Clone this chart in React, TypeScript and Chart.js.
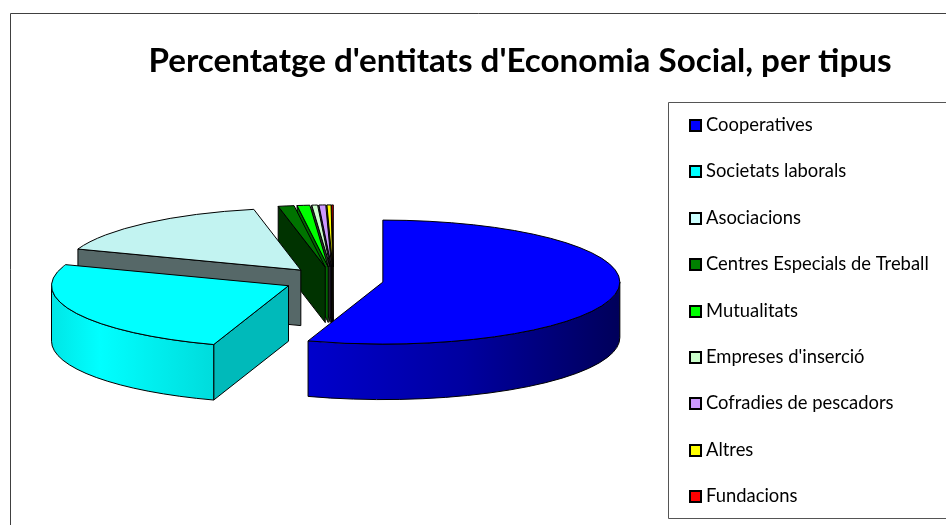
import React, { useEffect, useRef } from "react";
import { Chart, registerables } from "chart.js";

Chart.register(...registerables);

const categories = [
  "Cooperatives",
  "Societats laborals",
  "Asociacions",
  "Centres Especials de Treball",
  "Mutualitats",
  "Empreses d'inserció",
  "Cofradies de pescadors",
  "Altres",
  "Fundacions",
];
const shares = [55.1, 25.4, 16.3, 1.08, 0.86, 0.39, 0.46, 0.28, 0.11];
const titleText = "Percentatge d'entitats d'Economia Social, per tipus";

const legendColors = ["#0000FF", "#00FFFF", "#CCFFFF", "#008000", "#00FF00", "#CCFFCC", "#CC99FF", "#FFFF00", "#FF0000"];
const topColors = ["#0000FF", "#00FFFF", "#C2F3F1", "#007300", "#00FF00", "#CCFFCC", "#CC99FF", "#FFFF00", "#FF0000"];
const faceColors = ["#000099", "#00BABA", "#566868", "#003300", "#006600", "#333333", "#332255", "#333300", "#330000"];
const wallStops: string[][] = [
  ["#0000CC", "#0000A0", "#00005A"],
  ["#00E6E6", "#00FFFF", "#00DCDC"],
  ["#566868", "#566868", "#566868"],
  ["#003300", "#003300", "#003300"],
  ["#006600", "#006600", "#006600"],
  ["#333333", "#333333", "#333333"],
  ["#332255", "#332255", "#332255"],
  ["#333300", "#333300", "#333300"],
  ["#330000", "#330000", "#330000"],
];

const PIE = { cx: 333.5, cy: 280, rx: 237, ry: 62, depth: 55.5, explode: 50 };
const LEGEND = { boxLeft: 668, boxTop: 102, boxBottom: 518, swatchX: 690, firstY: 125, swatch: 11, fontSize: 18.4, pad: 28 };

const pie3d = {
  id: "pie3d",
  beforeDatasetsDraw(chart: any) {
    const ctx = chart.ctx as CanvasRenderingContext2D;
    const arcs = chart.getDatasetMeta(0).data as any[];
    const { cx, cy, rx, ry, depth, explode } = PIE;
    for (let i = arcs.length - 1; i >= 0; i--) {
      const arc = arcs[i];
      const a1 = arc.startAngle;
      const a2 = arc.endAngle;
      const mid = (a1 + a2) / 2;
      const x = cx + explode * Math.cos(mid);
      const y = cy + (explode * ry * Math.sin(mid)) / rx;
      ctx.save();
      ctx.lineWidth = 1;
      ctx.strokeStyle = "#000000";
      ctx.lineJoin = "round";
      const sx = x + rx * Math.cos(a1);
      const sy = y + ry * Math.sin(a1);
      // start-side cut face, visible when it looks towards the viewer
      if (Math.sin(a1 + Math.PI / 2) < -1e-6) {
        ctx.beginPath();
        ctx.moveTo(x, y);
        ctx.lineTo(sx, sy);
        ctx.lineTo(sx, sy + depth);
        ctx.lineTo(x, y + depth);
        ctx.closePath();
        ctx.fillStyle = faceColors[i];
        ctx.fill();
        ctx.stroke();
      }
      // outer rim: only the near half of the ellipse shows
      const w1 = Math.max(a1, 0);
      const w2 = Math.min(a2, Math.PI);
      if (w2 > w1) {
        const xa = x + rx * Math.cos(w1);
        const xb = x + rx * Math.cos(w2);
        const grad = ctx.createLinearGradient(Math.min(xa, xb), 0, Math.max(xa, xb), 0);
        const stops = wallStops[i];
        grad.addColorStop(0, stops[0]);
        grad.addColorStop(i === 0 ? 0.5 : 0.3, stops[1]);
        grad.addColorStop(1, stops[2]);
        ctx.beginPath();
        ctx.ellipse(x, y, rx, ry, 0, w1, w2);
        ctx.ellipse(x, y + depth, rx, ry, 0, w2, w1, true);
        ctx.closePath();
        ctx.fillStyle = grad;
        ctx.fill();
        ctx.stroke();
      }
      // top face: the library's own arc element under an elliptical transform
      ctx.save();
      ctx.translate(x, y);
      ctx.scale(rx / arc.outerRadius, ry / arc.outerRadius);
      ctx.translate(-arc.x, -arc.y);
      arc.draw(ctx);
      ctx.restore();
      ctx.beginPath();
      ctx.moveTo(x, y);
      ctx.lineTo(sx, sy);
      ctx.ellipse(x, y, rx, ry, 0, a1, a2);
      ctx.closePath();
      ctx.stroke();
      ctx.restore();
    }
    return false;
  },
};

const frame = {
  id: "frame",
  beforeDraw(chart: any) {
    const legend = chart.legend;
    legend.left = LEGEND.swatchX - LEGEND.pad;
    legend.right = chart.width;
    legend.top = LEGEND.firstY - LEGEND.fontSize / 2 - LEGEND.pad;
    legend.bottom = chart.height + 200;

    const ctx = chart.ctx as CanvasRenderingContext2D;
    ctx.save();
    ctx.fillStyle = "#FFFFFF";
    ctx.fillRect(0, 0, chart.width, chart.height);
    ctx.strokeStyle = "#404040";
    ctx.lineWidth = 1;
    ctx.beginPath();
    ctx.moveTo(10.5, chart.height);
    ctx.lineTo(10.5, 13.5);
    ctx.lineTo(chart.width, 13.5);
    ctx.stroke();
    ctx.strokeStyle = "#555555";
    ctx.beginPath();
    ctx.moveTo(chart.width, LEGEND.boxTop + 0.5);
    ctx.lineTo(LEGEND.boxLeft + 0.5, LEGEND.boxTop + 0.5);
    ctx.lineTo(LEGEND.boxLeft + 0.5, LEGEND.boxBottom + 0.5);
    ctx.lineTo(chart.width, LEGEND.boxBottom + 0.5);
    ctx.stroke();
    ctx.restore();
  },
  afterDraw(chart: any) {
    const ctx = chart.ctx as CanvasRenderingContext2D;
    ctx.save();
    categories.forEach((_, i) => {
      const cy = Math.round(LEGEND.firstY + (LEGEND.fontSize + LEGEND.pad) * i);
      ctx.fillStyle = legendColors[i];
      ctx.strokeStyle = "#000000";
      ctx.lineWidth = 2;
      ctx.fillRect(LEGEND.swatchX, cy - 5, LEGEND.swatch, LEGEND.swatch);
      ctx.strokeRect(LEGEND.swatchX, cy - 5, LEGEND.swatch, LEGEND.swatch);
    });
    ctx.restore();
  },
};

export default function App() {
  const ref = useRef<HTMLCanvasElement>(null);
  useEffect(() => {
    const chart = new Chart(ref.current!, {
      type: "pie",
      data: {
        labels: categories,
        datasets: [
          {
            data: shares,
            backgroundColor: topColors,
            borderWidth: 0,
          },
        ],
      },
      options: {
        responsive: false,
        animation: false,
        devicePixelRatio: 1,
        layout: { padding: { left: 94, right: 0, top: 0, bottom: 0 } },
        plugins: {
          tooltip: { enabled: false },
          title: {
            display: true,
            text: titleText,
            color: "#000000",
            align: "center",
            font: { family: "Lato", size: 33.2, weight: "bold" },
            padding: { top: 41, bottom: 10 },
          },
          legend: {
            display: true,
            position: "right",
            align: "start",
            fullSize: true,
            labels: {
              color: "#000000",
              boxWidth: 6.8,
              boxHeight: 11,
              padding: LEGEND.pad,
              font: { family: "Lato", size: LEGEND.fontSize },
              generateLabels: () =>
                categories.map((text, index) => ({
                  text,
                  index,
                  fillStyle: "rgba(0,0,0,0)",
                  strokeStyle: "rgba(0,0,0,0)",
                  lineWidth: 0,
                  fontColor: "#000000",
                  hidden: false,
                })),
            },
          },
        },
      },
      plugins: [pie3d, frame],
    } as any);
    return () => chart.destroy();
  }, []);
  return (
    <canvas
      ref={ref}
      width={946}
      height={525}
      style={{ position: "fixed", left: 0, top: 0, width: 946, height: 525, display: "block" }}
    />
  );
}
